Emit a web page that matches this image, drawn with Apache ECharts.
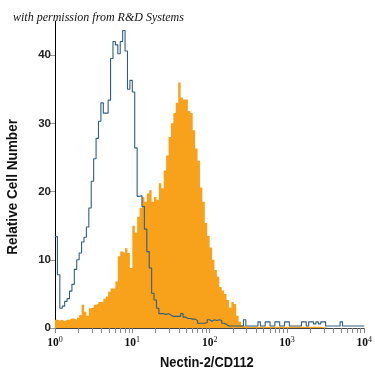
<!DOCTYPE html>
<html><head><meta charset="utf-8">
<script src="https://cdn.jsdelivr.net/npm/echarts@6/dist/echarts.min.js"></script>
<style>html,body{margin:0;padding:0;background:#fff}#c{width:375px;height:375px}</style>
</head><body><div id="c"></div>
<script>
// Histogram bins: 32 bins per decade over 10^0..10^4 (128 bins)
const binsPerDecade = 32;
const decadeValues = [1, 10, 100, 1000, 10000];
const minorTickValues = [1,2,3,4,5,6,7,8,9,10,20,30,40,50,60,70,80,90,100,200,300,400,500,600,700,800,900,1000,2000,3000,4000,5000,6000,7000,8000,9000,10000];
const yTickValues = [0, 10, 20, 30, 40];

// Isotype control (blue outline)
const isotypeCounts = [
  13.4, 7.8, 2.9, 3.2, 3.9, 4.3, 5.4, 6.4, 8.6, 10.0,
  11.0, 12.6, 13.3, 14.8, 17.6, 21.5, 24.8, 27.8, 30.3, 33.0,
  31.5, 31.5, 33.4, 39.5, 42.0, 41.5, 40.2, 42.0, 43.6, 40.6,
  35.0, 36.3, 34.6, 26.4, 19.3, 19.4, 17.8, 14.5, 11.2, 8.8,
  5.1, 4.1, 2.9, 2.1, 2.1, 2.0, 2.1, 1.9, 1.7, 1.7,
  1.7, 1.7, 2.1, 1.6, 1.4, 1.4, 1.3, 1.3, 1.1, 0.7,
  0.7, 0.7, 0.8, 1.2, 1.0, 1.2, 1.1, 1.2, 1.1, 0.7,
  0.5, 0.3, 0.3, 0.3, 0.3, 0.3, 0.3, 0.3, 1.2, 0.3,
  0.3, 0.3, 0.3, 0.3, 0.9, 0.3, 0.3, 0.9, 0.9, 0.3,
  0.3, 0.9, 0.9, 0.3, 0.3, 0.9, 0.9, 0.3, 0.3, 0.3,
  0.3, 0.3, 0.9, 0.9, 0.3, 0.9, 0.9, 0.6, 0.9, 0.6,
  0.9, 0.9, 0.3, 0.3, 0.3, 0.3, 0.3, 0.3, 0.9, 0.3,
  0.3, 0.3, 0.3, 0.3, 0.3, 0.3, 0.3, 0.3
];

// Nectin-2/CD112 antibody (orange filled)
const nectinCounts = [
  1.2, 1.1, 1.2, 1.0, 1.2, 1.2, 1.4, 1.4, 1.2, 1.5,
  1.9, 3.4, 2.4, 1.8, 2.9, 3.0, 3.4, 3.5, 3.8, 3.8,
  4.3, 4.6, 5.3, 5.8, 5.8, 6.8, 10.5, 11.2, 11.0, 11.7,
  11.0, 8.8, 15.0, 14.0, 16.3, 17.6, 19.2, 18.5, 19.7, 20.2,
  18.5, 19.2, 18.8, 21.2, 20.5, 23.1, 25.3, 28.0, 30.0, 31.5,
  33.0, 36.0, 33.8, 33.5, 33.5, 31.8, 31.5, 29.0, 26.3, 24.5,
  20.6, 18.5, 15.4, 13.5, 11.8, 10.0, 8.5, 7.5, 6.0, 5.5,
  5.0, 4.1, 3.0, 3.8, 3.5, 1.8, 0.9, 0.4, 0.2, 0.2,
  0.2, 0.2, 0.2, 0.2, 0.2, 0.2, 0.2, 0.2, 0.2, 0.2,
  0.2, 0.2, 0.2, 0.2, 0.2, 0.2, 0.2, 0.2, 0.2, 0.2,
  0.2, 0.2, 0.2, 0.2, 0.2, 0.2, 0.2, 0.2, 0.2, 0.2,
  0.1, 0.1, 0, 0, 0, 0, 0, 0, 0, 0,
  0, 0, 0, 0, 0, 0, 0, 0
];

function toSteps(counts) {
  const pts = counts.map((v, i) => [Math.pow(10, i / binsPerDecade), v]);
  pts.push([Math.pow(10, counts.length / binsPerDecade), counts[counts.length - 1]]);
  return pts;
}

const chart = echarts.init(document.getElementById('c'), null, {renderer: 'canvas'});
const sansBold = "'Liberation Sans',Arial,sans-serif";
chart.setOption({
  animation: false,
  backgroundColor: '#ffffff',
  title: {
    text: 'with permission from R&D Systems',
    left: 8, top: 7,
    textStyle: {fontFamily: "'Liberation Serif','DejaVu Serif',serif", fontStyle: 'italic', fontWeight: 'normal', fontSize: 12, color: '#111'}
  },
  grid: {left: 55, right: 9, top: 21, bottom: 47, containLabel: false},
  xAxis: {
    type: 'log', logBase: 10, min: 1, max: 10000,
    axisLine: {show: true, lineStyle: {color: '#444', width: 1}},
    axisTick: {show: true, length: 5, lineStyle: {color: '#888'}, customValues: minorTickValues},
    axisLabel: {
      customValues: decadeValues,
      margin: 8,
      formatter: v => '{b|10}{s|' + Math.round(Math.log10(v)) + '}',
      rich: {
        b: {fontFamily: "'Liberation Serif','DejaVu Serif',serif", fontSize: 11.5, color: '#111', fontWeight: 'bold'},
        s: {fontFamily: "'Liberation Serif','DejaVu Serif',serif", fontSize: 8, color: '#111', verticalAlign: 'top', padding: [0,0,6,0]}
      }
    },
    splitLine: {show: false},
    minorTick: {show: false}
  },
  yAxis: {
    type: 'value', min: 0, max: 45, interval: 10,
    axisLine: {show: true, lineStyle: {color: '#000', width: 1}},
    axisTick: {show: true, length: 6, lineStyle: {color: '#999'}, customValues: yTickValues},
    axisLabel: {customValues: yTickValues, margin: 4, fontFamily: sansBold, fontWeight: 'bold', fontSize: 11.5, color: '#222'},
    splitLine: {show: false}
  },
  graphic: [
    {type: 'text', left: 6, top: 119, rotation: Math.PI / 2, scaleX: 0.97,
     style: {text: 'Relative Cell Number', font: "bold 14px " + sansBold, fill: '#111'}},
    {type: 'text', x: 160, y: 356, scaleX: 0.92,
     style: {text: 'Nectin-2/CD112', font: "bold 14px " + sansBold, fill: '#111'}}
  ],
  series: [
    {
      name: 'Nectin-2/CD112', type: 'line', step: 'end', symbol: 'none',
      data: toSteps(nectinCounts),
      lineStyle: {width: 0},
      areaStyle: {color: '#f8a11b', opacity: 1},
      z: 2
    },
    {
      name: 'Isotype', type: 'line', step: 'end', symbol: 'none',
      data: toSteps(isotypeCounts),
      lineStyle: {width: 1.1, color: '#2f5f80'},
      z: 3
    }
  ]
});
</script>
</body></html>
